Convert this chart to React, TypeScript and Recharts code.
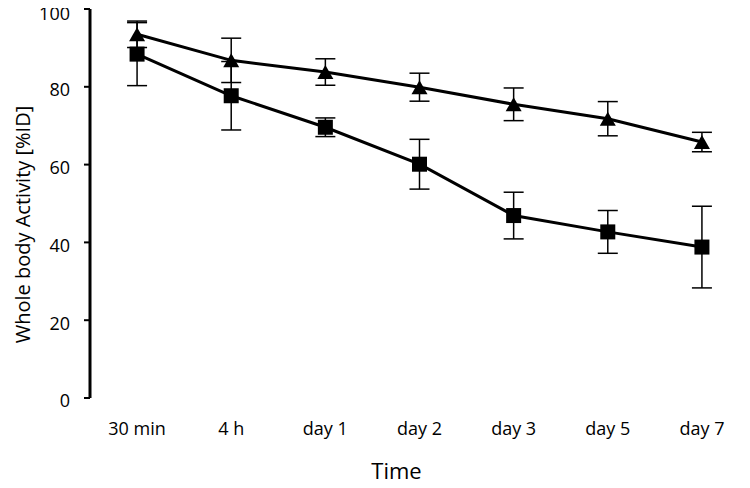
import React from 'react';
import { LineChart, Line, XAxis, YAxis, ErrorBar } from 'recharts';

const timeLabels = ['30 min', '4 h', 'day 1', 'day 2', 'day 3', 'day 5', 'day 7'];
const triangleValues = [93.5, 86.8, 83.8, 79.9, 75.5, 71.8, 65.8];
const triangleErrors = [3.4, 5.7, 3.4, 3.6, 4.2, 4.4, 2.5];
const squareValues = [88.4, 77.7, 69.6, 60.1, 46.9, 42.7, 38.8];
const squareErrors = [8.1, 8.8, 2.4, 6.4, 6.0, 5.5, 10.5];
const yTicks = [0, 20, 40, 60, 80, 100];
const boundaryTicks = [0, 1, 2, 3, 4, 5, 6, 7];
const xTitle = 'Time';
const yTitle = 'Whole body Activity [%ID]';

const data = timeLabels.map((time, i) => ({
  time,
  x: i + 0.5,
  tri: triangleValues[i],
  triErr: triangleErrors[i],
  sq: squareValues[i],
  sqErr: squareErrors[i],
}));

const FONT = '"Open Sans", sans-serif';

const TriangleDot = (props: any) => {
  const { cx, cy } = props;
  if (cx == null || cy == null) return null;
  const w = 16;
  const h = 14;
  return (
    <polygon
      points={`${cx},${cy - h / 2} ${cx - w / 2},${cy + h / 2} ${cx + w / 2},${cy + h / 2}`}
      fill="#000"
    />
  );
};

const SquareDot = (props: any) => {
  const { cx, cy } = props;
  if (cx == null || cy == null) return null;
  const s = 15;
  return <rect x={cx - s / 2} y={cy - s / 2} width={s} height={s} fill="#000" />;
};

const XTitle = (props: any) => {
  const vb = props.viewBox || {};
  const cx = vb.x + vb.width / 2 - 23;
  const y = vb.y + vb.height - 9;
  return (
    <text x={cx} y={y} textAnchor="middle" fill="#000" fontSize={22} fontFamily={FONT}>
      {xTitle}
    </text>
  );
};

const YTitle = (props: any) => {
  const vb = props.viewBox || {};
  const x = vb.x + 22;
  const y = vb.y + vb.height / 2 + 21;
  return (
    <text
      x={x}
      y={y}
      transform={`rotate(-90, ${x}, ${y})`}
      textAnchor="middle"
      dominantBaseline="central"
      fill="#000"
      fontSize={20}
      fontFamily={FONT}
    >
      {yTitle}
    </text>
  );
};

export default function App() {
  return (
    <div style={{ margin: -8, width: 750, height: 488, background: '#fff' }}>
      <LineChart width={750} height={488} data={data} margin={{ top: 9, right: 1, left: 0, bottom: 0 }}>
        <XAxis
          xAxisId="num"
          type="number"
          dataKey="x"
          domain={[0, 7]}
          ticks={boundaryTicks}
          tick={false}
          height={0}
          tickSize={6}
          axisLine={{ stroke: '#000', strokeWidth: 3 }}
          tickLine={{ stroke: '#000', strokeWidth: 2 }}
        />
        <XAxis
          xAxisId="cat"
          type="category"
          scale="band"
          dataKey="time"
          height={90}
          axisLine={false}
          tickLine={false}
          tickSize={6}
          tickMargin={18}
          interval={0}
          tick={{ fill: '#000', fontSize: 18, fontFamily: FONT }}
          label={<XTitle />}
        />
        <YAxis
          type="number"
          domain={[0, 100]}
          ticks={yTicks}
          width={90}
          tickSize={6}
          tickMargin={14}
          axisLine={{ stroke: '#000', strokeWidth: 3 }}
          tickLine={{ stroke: '#000', strokeWidth: 2 }}
          tick={{ fill: '#000', fontSize: 18, fontFamily: FONT, dy: 3 }}
          label={<YTitle />}
        />
        <Line
          xAxisId="num"
          dataKey="tri"
          stroke="#000"
          strokeWidth={3}
          dot={(p: any) => <TriangleDot {...p} key={`t-${p.index}`} />}
          activeDot={false}
          isAnimationActive={false}
        >
          <ErrorBar dataKey="triErr" direction="y" width={10} stroke="#000" strokeWidth={1.5} />
        </Line>
        <Line
          xAxisId="num"
          dataKey="sq"
          stroke="#000"
          strokeWidth={3}
          dot={(p: any) => <SquareDot {...p} key={`s-${p.index}`} />}
          activeDot={false}
          isAnimationActive={false}
        >
          <ErrorBar dataKey="sqErr" direction="y" width={10} stroke="#000" strokeWidth={1.5} />
        </Line>
      </LineChart>
    </div>
  );
}
